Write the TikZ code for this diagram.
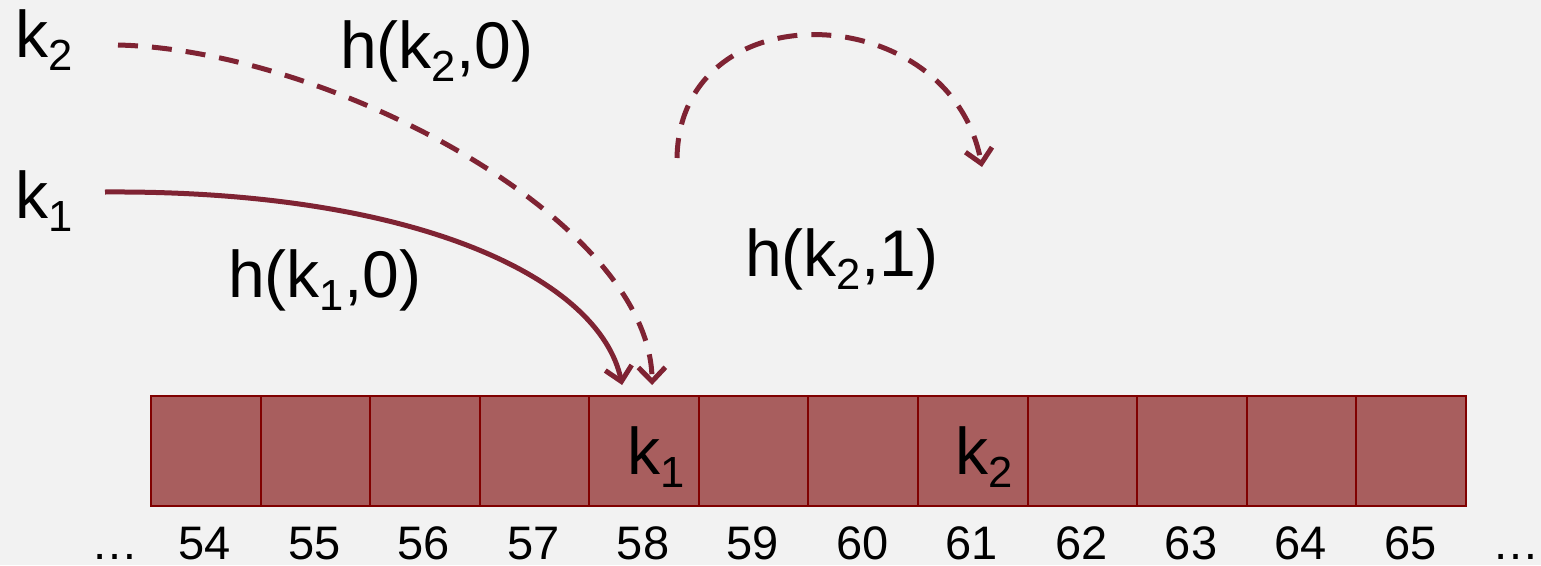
\documentclass[tikz,border=0pt]{standalone}
\usepackage{fontspec}
\setmainfont{Liberation Sans}
\usetikzlibrary{arrows.meta}
\definecolor{bg}{HTML}{F2F2F2}
\definecolor{arr}{HTML}{7F2333}
\definecolor{cellfill}{HTML}{A85E5E}
\definecolor{cellline}{HTML}{800000}
\newcommand{\ksub}[1]{k\raisebox{-0.2em}{\scalebox{0.66}{#1}}}
\tikzset{
  big/.style={font=\fontsize{66}{70}\selectfont, inner sep=0pt, anchor=base west},
  num/.style={font=\fontsize{47}{50}\selectfont, inner sep=0pt, anchor=base, text depth=0pt},
  cell/.style={draw=cellline, fill=cellfill, line width=2pt, minimum width=109.58pt, minimum height=110pt, inner sep=0pt, anchor=north west},
  link/.style={draw=arr, line width=5pt, -{Straight Barb[length=14pt,width=27pt]}},
  dashedlink/.style={link, dash pattern=on 20pt off 14pt}
}
\begin{document}
\begin{tikzpicture}[x=1pt,y=-1pt]
\fill[bg] (0,0) rectangle (1541,565);
\useasboundingbox (0,0) rectangle (1541,565);
% cells
\foreach \n [count=\i from 0] in {54,...,65} {
  \node[cell] (c\n) at ({150+\i*109.58},395) {};
  \node[num] (n\n) at ({150+\i*109.58+54.8},559) {\n};
}
\node[num] (dl) at (115,559) {\dots};
\node[num] (dr) at (1516,559) {\dots};
% texts
\node[big] (k2) at (15,57) {\ksub{2}};
\node[big] (k1) at (15,218) {\ksub{1}};
\node[big] (h20) at (340,68) {h(\ksub{2},0)};
\node[big] (h10) at (228,297) {h(\ksub{1},0)};
\node[big] (h21) at (745,276) {h(\ksub{2},1)};
\node[big] (in1) at (627,474) {\ksub{1}};
\node[big] (in2) at (955,474) {\ksub{2}};
% connectors
\coordinate (s1) at (105,192);
\coordinate (s2) at (118,45);
\draw[link] (s1) .. controls (420,190) and (600,280) .. ([xshift=-22pt,yshift=10pt]c58.north);
\draw[dashedlink] (s2) .. controls (330,50) and (650,220) .. ([xshift=8pt,yshift=10pt]c58.north);
\coordinate (a1) at (677,158);
\coordinate (a2) at (982,167);
\draw[dashedlink] (a1) .. controls (680,-12) and (950,-2) .. (a2);
\end{tikzpicture}
\end{document}
